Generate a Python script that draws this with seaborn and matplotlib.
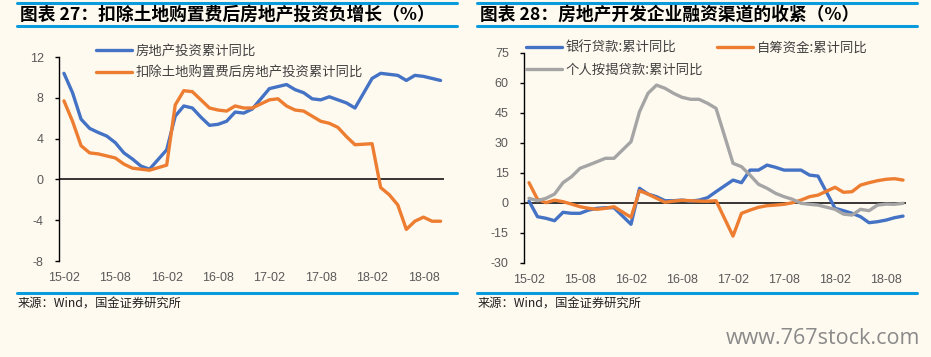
import matplotlib
matplotlib.use("Agg")
import matplotlib.pyplot as plt
import seaborn as sns
import pandas as pd
from matplotlib.lines import Line2D

# ---------------- data ----------------
months = ["15-02", "15-03", "15-04", "15-05", "15-06", "15-07", "15-08", "15-09", "15-10", "15-11", "15-12",
          "16-02", "16-03", "16-04", "16-05", "16-06", "16-07", "16-08", "16-09", "16-10", "16-11", "16-12",
          "17-02", "17-03", "17-04", "17-05", "17-06", "17-07", "17-08", "17-09", "17-10", "17-11", "17-12",
          "18-02", "18-03", "18-04", "18-05", "18-06", "18-07", "18-08", "18-09", "18-10"]

tick_labels = ["15-02", "15-08", "16-02", "16-08", "17-02", "17-08", "18-02", "18-08"]

# chart 27
left_names = ["房地产投资累计同比", "扣除土地购置费后房地产投资累计同比"]
invest_total = [10.4, 8.5, 5.9, 5.0, 4.6, 4.25, 3.6, 2.6, 2.0, 1.3, 1.0,
                2.9, 6.2, 7.2, 7.0, 6.1, 5.3, 5.4, 5.7, 6.6, 6.5, 6.9,
                8.9, 9.1, 9.3, 8.8, 8.5, 7.9, 7.8, 8.1, 7.8, 7.5, 7.0,
                9.9, 10.4, 10.3, 10.2, 9.7, 10.2, 10.1, 9.9, 9.7]
invest_ex_land = [7.7, 5.7, 3.3, 2.6, 2.5, 2.3, 2.1, 1.5, 1.1, 1.0, 0.9,
                  1.4, 7.3, 8.7, 8.6, 7.8, 7.0, 6.8, 6.7, 7.2, 7.0, 7.0,
                  7.8, 7.9, 7.2, 6.8, 6.7, 6.2, 5.7, 5.5, 5.1, 4.2, 3.4,
                  3.5, -0.8, -1.5, -2.5, -4.9, -4.1, -3.7, -4.1, -4.1]

# chart 28
right_names = ["银行贷款:累计同比", "自筹资金:累计同比", "个人按揭贷款:累计同比"]
bank_loans = [0.8, -7.0, -7.8, -9.0, -4.8, -5.3, -5.3, -3.7, -2.8, -2.5, -2.5,
              -10.8, 7.2, 4.3, 3.0, 1.0, 1.0, 1.3, 0.8, 1.3, 2.5, 5.5,
              11.3, 10.0, 16.3, 16.3, 18.8, 17.7, 16.3, 16.3, 16.3, 13.8, 13.3,
              -2.8, -4.0, -5.3, -7.0, -10.0, -9.5, -8.7, -7.5, -6.7]
self_funds = [10.0, 1.7, 0.0, 1.3, 0.5, -0.7, -2.0, -2.8, -3.3, -2.8, -2.0,
              -7.3, 6.0, 4.3, 2.2, 0.2, 0.8, 1.2, 1.0, 0.8, 0.7, 1.0,
              -16.7, -5.3, -3.7, -2.3, -1.5, -1.2, -0.8, 0.0, 1.3, 3.0, 3.8,
              7.7, 5.2, 5.5, 8.8, 10.0, 11.0, 11.7, 12.0, 11.3]
mortgages = [2.2, 1.0, 2.2, 4.3, 10.0, 13.0, 17.2, 18.8, 20.5, 22.2, 22.2,
             30.5, 45.5, 54.7, 58.8, 57.2, 54.7, 52.7, 51.7, 51.7, 49.7, 47.2,
             19.7, 18.0, 13.8, 9.2, 7.2, 4.7, 3.0, 1.7, -0.3, -0.8, -1.2,
             -3.3, -5.7, -6.2, -3.3, -4.0, -1.2, -0.7, -0.8, -0.3]

left_ticks = [-8, -4, 0, 4, 8, 12]
right_ticks = [-30, -15, 0, 15, 30, 45, 60, 75]

# ---------------- style ----------------
BG = "#FFFAF0"
RULE = "#0A9BDC"
BLUE, ORANGE, GRAY = "#4472C4", "#ED7D31", "#A5A5A5"
TICKC = "#595959"
CJK = ["Noto Sans CJK SC", "DejaVu Sans"]

sns.set_style("white")
plt.rcParams["font.family"] = CJK
plt.rcParams["axes.unicode_minus"] = False


def month_index(lbl):
    yy, mm = lbl.split("-")
    return (int(yy) - 15) * 12 + int(mm) - 2


W, H = 931, 357
fig = plt.figure(figsize=(W / 100, H / 100), dpi=100, facecolor=BG)


def px_axes(x0, y0, x1, y1):
    return fig.add_axes([x0 / W, 1 - y1 / H, (x1 - x0) / W, (y1 - y0) / H])


def style_axes(ax, ticks, ylim, xlim):
    ax.set_facecolor(BG)
    ax.set_xlim(*xlim)
    ax.set_ylim(*ylim)
    ax.set_yticks(ticks)
    ax.set_yticklabels([str(t) for t in ticks], family="Liberation Sans", fontsize=9, color=TICKC)
    ax.set_xticks([month_index(t) for t in tick_labels])
    ax.set_xticklabels(tick_labels, family="Liberation Sans", fontsize=9, color=TICKC)
    for s in ["top", "right", "bottom"]:
        ax.spines[s].set_visible(False)
    ax.spines["left"].set_color("black")
    ax.spines["left"].set_linewidth(1.0)
    ax.tick_params(axis="y", direction="out", length=3, width=1, color="black", pad=8, left=True)
    ax.tick_params(axis="x", length=0, pad=8)
    ax.set_xlabel("")
    ax.set_ylabel("")
    ax.grid(False)


def draw(ax, names, series, colors):
    rows = []
    for n, vals in zip(names, series):
        for m, v in zip(months, vals):
            rows.append({"m": month_index(m), "v": v, "s": n})
    df = pd.DataFrame(rows)
    sns.lineplot(data=df, x="m", y="v", hue="s", hue_order=names, palette=colors,
                 linewidth=2.4, ax=ax, legend=False)
    lines = list(ax.lines)
    ax.axhline(0, color="black", linewidth=1.1, zorder=1)
    for ln in lines:
        ln.set_solid_capstyle("round")
        ln.set_solid_joinstyle("round")
    return lines


# ---------------- left chart ----------------
axL = px_axes(59, 57, 444, 261)
linesL = draw(axL, left_names, [invest_total, invest_ex_land], [BLUE, ORANGE])
style_axes(axL, left_ticks, (-8, 12), (-0.58, 44.4))
fig.legend(linesL, left_names, loc="upper left", bbox_to_anchor=(96 / W, 1 - 44 / H),
           frameon=False, fontsize=9.6, labelcolor="#404040", handlelength=2.7,
           handletextpad=0.3, labelspacing=0.55, borderpad=0, borderaxespad=0)

# ---------------- right chart ----------------
axR = px_axes(524, 52.7, 906, 262.7)
linesR = draw(axR, right_names, [bank_loans, self_funds, mortgages], [BLUE, ORANGE, GRAY])
style_axes(axR, right_ticks, (-30, 75), (-0.59, 44.35))
order = [0, 2, 1]
fig.legend([linesR[i] for i in order], [right_names[i] for i in order], loc="upper left",
           bbox_to_anchor=(526 / W, 1 - 41 / H), ncol=2, frameon=False, fontsize=9.6,
           labelcolor="#404040", handlelength=2.7, handletextpad=0.3, labelspacing=0.55,
           columnspacing=1.0, borderpad=0, borderaxespad=0)

# ---------------- titles, rules, sources ----------------
def rule(x0, x1, y, lw=2.2):
    fig.add_artist(Line2D([x0 / W, x1 / W], [1 - y / H, 1 - y / H], color=RULE,
                          linewidth=lw, transform=fig.transFigure))


for x0, x1 in [(17, 457), (477, 917)]:
    rule(x0, x1, 3.3)
    rule(x0, x1, 26.3)
    rule(x0, x1, 292.5)

fig.text(20 / W, 1 - 15 / H, "图表 27：扣除土地购置费后房地产投资负增长（%）", fontsize=12.75,
         fontweight="bold", va="center", ha="left", color="black")
fig.text(480 / W, 1 - 15 / H, "图表 28：房地产开发企业融资渠道的收紧（%）", fontsize=12.75,
         fontweight="bold", va="center", ha="left", color="black")

fig.text(18 / W, 1 - 304 / H, "来源：Wind，国金证券研究所", fontsize=8.8, va="center",
         ha="left", color="#202020")
fig.text(478 / W, 1 - 304 / H, "来源：Wind，国金证券研究所", fontsize=8.8, va="center",
         ha="left", color="#202020")

fig.text(920 / W, 1 - 339 / H, "www.767stock.com", fontsize=15.5, family="Open Sans",
         va="center", ha="right", color="#8A8A8A")

fig.savefig("out.png", dpi=100, facecolor=BG)
